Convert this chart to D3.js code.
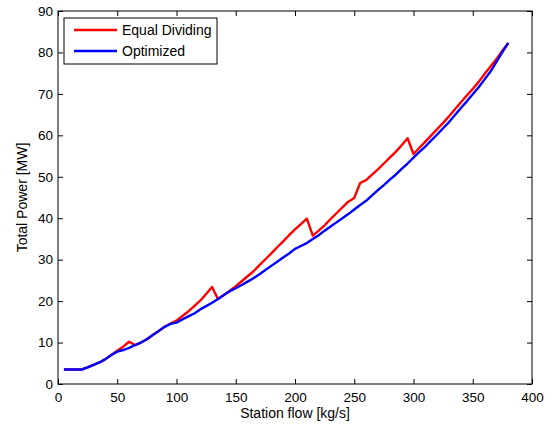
<!DOCTYPE html>
<html>
<head>
<meta charset="utf-8">
<script src="https://cdn.jsdelivr.net/npm/d3@7"></script>
<style>
  body { margin: 0; background: #fff; }
  text { font-family: "Liberation Sans", Arial, sans-serif; }
</style>
</head>
<body>
<script>
const width = 552, height = 425;
const margin = {top: 11, right: 20, bottom: 41, left: 58};

const flow = [5,10,15,20,25,30,35,40,45,50,55,60,65,70,75,80,85,90,95,100,
  105,110,115,120,125,130,135,140,145,150,155,160,165,170,175,180,185,190,195,200,
  205,210,215,220,225,230,235,240,245,250,255,260,265,270,275,280,285,290,295,300,
  305,310,315,320,325,330,335,340,345,350,355,360,365,370,375,380];

const equalDividing = [3.5,3.5,3.5,3.5,4,4.6,5.2,6,7,8,9,10.2,9.4,10,10.8,11.8,12.8,13.8,14.6,15.3,
  16.4,17.5,18.8,20.1,21.7,23.4,20.5,21.5,22.5,23.6,24.8,26,27.2,28.7,30.1,31.5,33,34.4,35.9,37.3,
  38.6,39.9,35.8,37,38.3,39.8,41.2,42.6,44,44.9,48.5,49.2,50.5,51.8,53.2,54.6,56,57.6,59.3,55.5,
  57,58.5,60,61.5,63,64.6,66.3,68,69.6,71.2,72.9,74.8,76.6,78.4,80.4,82.3];

const optimized = [3.5,3.5,3.5,3.5,4,4.6,5.2,6,7,7.8,8.2,8.7,9.4,10,10.8,11.8,12.8,13.8,14.5,14.8,
  15.6,16.3,17,18,18.8,19.6,20.5,21.5,22.4,23.1,23.9,24.7,25.5,26.5,27.5,28.5,29.5,30.5,31.5,32.6,
  33.3,34,35,35.9,37,38,39,40,41,42.1,43.2,44.2,45.5,46.8,48,49.3,50.5,51.9,53.2,54.6,
  56,57.3,58.8,60.2,61.7,63.2,64.9,66.6,68.2,69.9,71.6,73.5,75.4,77.7,80.1,82.3];

const xTicks = [0,50,100,150,200,250,300,350,400];
const yTicks = [0,10,20,30,40,50,60,70,80,90];

const series = [
  {name: "Equal Dividing", color: "#ff0000", values: equalDividing},
  {name: "Optimized", color: "#0000ff", values: optimized}
];

const svg = d3.select("body").append("svg")
  .attr("width", width)
  .attr("height", height);

const x = d3.scaleLinear().domain([0, 400]).range([margin.left, width - margin.right]);
const y = d3.scaleLinear().domain([0, 90]).range([height - margin.bottom, margin.top]);

// box ticks (inward, all four sides)
const tk = 5;
svg.append("g")
  .attr("transform", `translate(0,${y(0)})`)
  .call(d3.axisBottom(x).tickValues(xTicks).tickSize(-tk).tickPadding(8))
  .call(g => g.select(".domain").remove());
svg.append("g")
  .attr("transform", `translate(0,${y(90)})`)
  .call(d3.axisTop(x).tickValues(xTicks).tickSize(-tk).tickFormat(""))
  .call(g => g.select(".domain").remove());
svg.append("g")
  .attr("transform", `translate(${x(0)},0)`)
  .call(d3.axisLeft(y).tickValues(yTicks).tickSize(-tk).tickPadding(5))
  .call(g => g.select(".domain").remove());
svg.append("g")
  .attr("transform", `translate(${x(400)},0)`)
  .call(d3.axisRight(y).tickValues(yTicks).tickSize(-tk).tickFormat(""))
  .call(g => g.select(".domain").remove());

svg.selectAll(".tick text").attr("font-size", 13.5).attr("fill", "#000")
  .attr("font-family", "Liberation Sans, Arial, sans-serif");

svg.append("rect")
  .attr("x", x(0)).attr("y", y(90))
  .attr("width", x(400) - x(0)).attr("height", y(0) - y(90))
  .attr("fill", "none").attr("stroke", "#000").attr("stroke-width", 1);

const line = d3.line()
  .x((d, i) => x(flow[i]))
  .y(d => y(d));

series.forEach(s => {
  svg.append("path")
    .datum(s.values)
    .attr("fill", "none")
    .attr("stroke", s.color)
    .attr("stroke-width", 2.4)
    .attr("stroke-linejoin", "round")
    .attr("d", line);
});

// legend
const lg = svg.append("g").attr("transform", "translate(64,18)");
lg.append("rect").attr("width", 153).attr("height", 46)
  .attr("fill", "#fff").attr("stroke", "#000").attr("stroke-width", 1);
series.forEach((s, i) => {
  const yy = 12 + i * 21;
  lg.append("line").attr("x1", 10).attr("x2", 53).attr("y1", yy).attr("y2", yy)
    .attr("stroke", s.color).attr("stroke-width", 2.4);
  lg.append("text").attr("x", 58).attr("y", yy).attr("dy", "0.35em")
    .attr("font-size", 14).text(s.name);
});

// axis labels
svg.append("text")
  .attr("x", (x(0) + x(400)) / 2).attr("y", 418)
  .attr("text-anchor", "middle").attr("font-size", 14)
  .text("Station flow [kg/s]");
svg.append("text")
  .attr("transform", `translate(27,${(y(0) + y(90)) / 2}) rotate(-90)`)
  .attr("text-anchor", "middle").attr("font-size", 14)
  .text("Total Power [MW]");
</script>
</body>
</html>
